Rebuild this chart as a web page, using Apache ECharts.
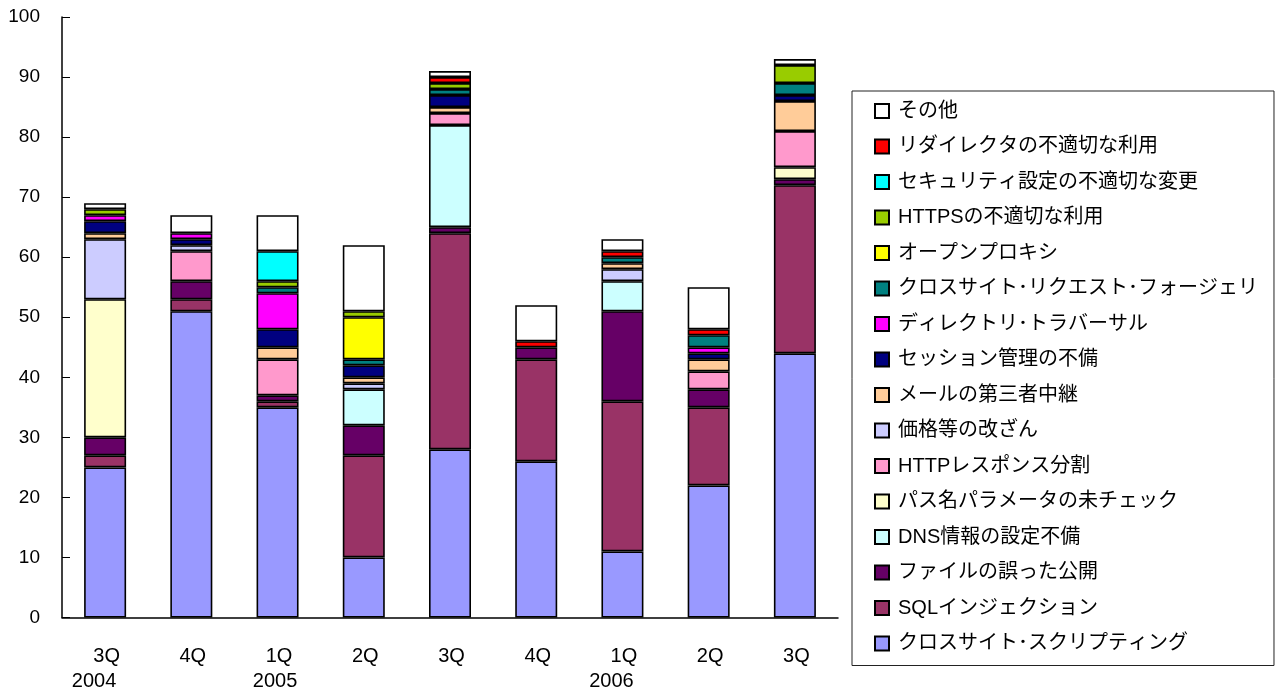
<!DOCTYPE html>
<html>
<head>
  <meta charset="utf-8">
  <title>脆弱性の種類別届出件数</title>
  <script src="https://fastly.jsdelivr.net/npm/echarts@6/dist/echarts.min.js"></script>
  <style>
    html, body { margin: 0; padding: 0; background: #fff; }
  </style>
</head>
<body>
<div id="chart-container" style="width: 1278px; height: 691px;"></div>
<script type="text/javascript">
  var quarters = ['3Q', '4Q', '1Q', '2Q', '3Q', '4Q', '1Q', '2Q', '3Q'];
  var years    = ['2004', '', '2005', '', '', '', '2006', '', ''];

  // bottom to top
  var xss       = [25, 51, 35, 10, 28, 26, 11, 22, 44];
  var sqli      = [2, 2, 1, 17, 36, 17, 25, 13, 28];
  var fileLeak  = [3, 3, 1, 5, 1, 2, 15, 3, 1];
  var dns       = [0, 0, 0, 6, 17, 0, 5, 0, 0];
  var pathParam = [23, 0, 0, 0, 0, 0, 0, 0, 2];
  var httpSplit = [0, 5, 6, 0, 2, 0, 0, 3, 6];
  var price     = [10, 1, 0, 1, 0, 0, 2, 0, 0];
  var mailRelay = [1, 0, 2, 1, 1, 0, 1, 2, 5];
  var session   = [2, 1, 3, 2, 2, 0, 0, 1, 1];
  var dirTrav   = [1, 1, 6, 0, 0, 0, 0, 1, 0];
  var csrf      = [0, 0, 1, 1, 1, 0, 1, 2, 2];
  var proxy     = [0, 0, 0, 7, 0, 0, 0, 0, 0];
  var https     = [1, 0, 1, 1, 1, 0, 0, 0, 3];
  var secChange = [0, 0, 5, 0, 0, 0, 0, 0, 0];
  var redirect  = [0, 0, 0, 0, 1, 1, 1, 1, 0];
  var other     = [1, 3, 6, 11, 1, 6, 2, 7, 1];

  var seriesDefs = [
    ['クロスサイト･スクリプティング', xss, '#9999ff'],
    ['SQLインジェクション', sqli, '#993366'],
    ['ファイルの誤った公開', fileLeak, '#660066'],
    ['DNS情報の設定不備', dns, '#ccffff'],
    ['パス名パラメータの未チェック', pathParam, '#ffffcc'],
    ['HTTPレスポンス分割', httpSplit, '#ff99cc'],
    ['価格等の改ざん', price, '#ccccff'],
    ['メールの第三者中継', mailRelay, '#ffcc99'],
    ['セッション管理の不備', session, '#000080'],
    ['ディレクトリ･トラバーサル', dirTrav, '#ff00ff'],
    ['クロスサイト･リクエスト･フォージェリ', csrf, '#008080'],
    ['オープンプロキシ', proxy, '#ffff00'],
    ['HTTPSの不適切な利用', https, '#99cc00'],
    ['セキュリティ設定の不適切な変更', secChange, '#00ffff'],
    ['リダイレクタの不適切な利用', redirect, '#ff0000'],
    ['その他', other, '#ffffff']
  ];

  var fontFamily = "'Liberation Sans', 'Noto Sans CJK JP', sans-serif";

  var categories = quarters.map(function (q, i) { return i + ''; });

  var dom = document.getElementById('chart-container');
  var myChart = echarts.init(dom, null, { renderer: 'canvas' });

  var series = seriesDefs.map(function (d) {
    return {
      name: d[0],
      type: 'bar',
      stack: 'total',
      barWidth: 42,
      itemStyle: { color: d[2], borderColor: '#000', borderWidth: 1.6 },
      data: d[1].map(function (v) { return v === 0 ? '-' : v; })
    };
  });

  var option = {
    animation: false,
    textStyle: { fontFamily: fontFamily },
    grid: { left: 62, right: 440, top: 17, bottom: 71 },
    legend: {
      orient: 'vertical',
      left: 852,
      top: 91,
      padding: [10, 16, 12, 22],
      itemGap: 15.5,
      itemWidth: 14,
      itemHeight: 14,
      icon: 'rect',
      borderColor: '#222',
      borderWidth: 1,
      backgroundColor: '#fff',
      textStyle: { fontSize: 20, color: '#000', fontFamily: fontFamily, lineHeight: 20, padding: [0, 0, 0, 4] },
      data: seriesDefs.map(function (d) { return d[0]; }).reverse()
    },
    xAxis: {
      type: 'category',
      data: categories,
      axisLine: { lineStyle: { color: '#000', width: 1.5 } },
      axisTick: { inside: true, length: 8, lineStyle: { color: '#000' } },
      axisLabel: {
        color: '#000',
        interval: 0,
        margin: 26,
        formatter: function (v) {
          var i = +v;
          var s = '{q|' + quarters[i] + '}';
          if (years[i]) {
            s += '\n{' + (years[i] === '2005' ? 'y' : 'yl') + '|' + years[i] + '}';
          }
          return s;
        },
        rich: {
          q: { fontSize: 20, lineHeight: 25, color: '#000', padding: [0, 0, 0, 3] },
          y: { fontSize: 20, lineHeight: 25, color: '#000', padding: [0, 5, 0, 0] },
          yl: { fontSize: 20, lineHeight: 25, color: '#000', padding: [0, 22, 0, 0] }
        }
      }
    },
    yAxis: {
      type: 'value',
      min: 0,
      max: 100,
      interval: 10,
      axisLine: { show: true, lineStyle: { color: '#000', width: 1.5 } },
      axisTick: { show: true, inside: true, length: 8, lineStyle: { color: '#000' } },
      axisLabel: { color: '#000', fontSize: 19, margin: 22 },
      splitLine: { show: false }
    },
    series: series
  };

  myChart.setOption(option);
  window.addEventListener('resize', myChart.resize);
</script>
</body>
</html>
